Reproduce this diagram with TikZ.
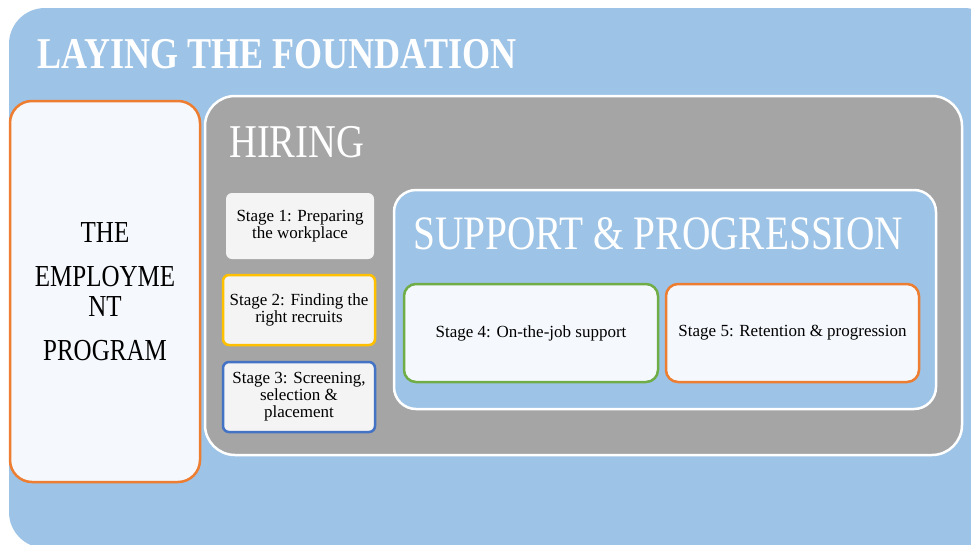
\documentclass[tikz,border=0pt]{standalone}
\usepackage{fontspec}
\setmainfont{Liberation Serif}
\newfontfamily\headfont[FakeStretch=0.82]{Liberation Serif}
\definecolor{skyblue}{HTML}{9DC3E6}
\definecolor{hiregray}{HTML}{A5A5A5}
\definecolor{paleback}{HTML}{F5F8FC}
\definecolor{stagefill}{HTML}{F4F4F4}
\definecolor{orangeline}{HTML}{ED7D31}
\definecolor{goldline}{HTML}{FFC000}
\definecolor{blueline}{HTML}{4472C4}
\definecolor{greenline}{HTML}{70AD47}
\begin{document}
\begin{tikzpicture}[x=1pt,y=-1pt,
	panel/.style={rectangle,line width=2.5pt,inner sep=0pt},
	stagebox/.style={panel,fill=stagefill,rounded corners=6pt,minimum width=152pt,minimum height=70pt,
		align=center,font=\fontsize{17}{17}\selectfont},
	longstage/.style={panel,fill=paleback,rounded corners=12pt,minimum width=254pt,minimum height=98pt,
		font=\fontsize{17}{17}\selectfont},
	heading/.style={anchor=base west,inner sep=0pt,text=white}]
\useasboundingbox[fill=white](0,0)rectangle(971,544);
\begin{scope}
\clip(0,0)rectangle(971,544);
\fill[skyblue,rounded corners=36pt](9,8)rectangle(1000,548);
\end{scope}
\node[heading,font=\headfont\bfseries\fontsize{44}{44}\selectfont](found)at(37,68){LAYING THE FOUNDATION};
\node[panel,draw=orangeline,fill=paleback,rounded corners=22pt,minimum width=190pt,minimum height=381pt,
	align=center,font=\headfont\fontsize{30.5}{30}\selectfont](program)at(105,291.5)
	{THE\\[14pt]EMPLOYME\\NT\\[14pt]PROGRAM};
\node[panel,draw=white,fill=hiregray,rounded corners=30pt,minimum width=757pt,minimum height=359pt](hiring)at(583.5,275.5){};
\node[heading,font=\headfont\fontsize{47}{47}\selectfont](hiretitle)at(229,157){HIRING};
\node[stagebox,draw=none,minimum width=148pt,minimum height=66pt](stageone)at(300,226){Stage 1: Preparing\\the workplace};
\node[stagebox,draw=goldline](stagetwo)at(299,310){Stage 2: Finding the\\right recruits};
\node[stagebox,draw=blueline](stagethree)at(299,397){Stage 3: Screening,\\selection \&\\placement};
\node[panel,draw=white,fill=skyblue,rounded corners=22pt,minimum width=542pt,minimum height=219pt](support)at(665,299.5){};
\node[heading,font=\headfont\fontsize{48}{48}\selectfont](supporttitle)at(413,249){SUPPORT \& PROGRESSION};
\node[longstage,draw=greenline](stagefour)at(531,333){Stage 4: On-the-job support};
\node[longstage,draw=orangeline,minimum width=253pt](stagefive)at(792.5,333){Stage 5: Retention \& progression};
\end{tikzpicture}
\end{document}
